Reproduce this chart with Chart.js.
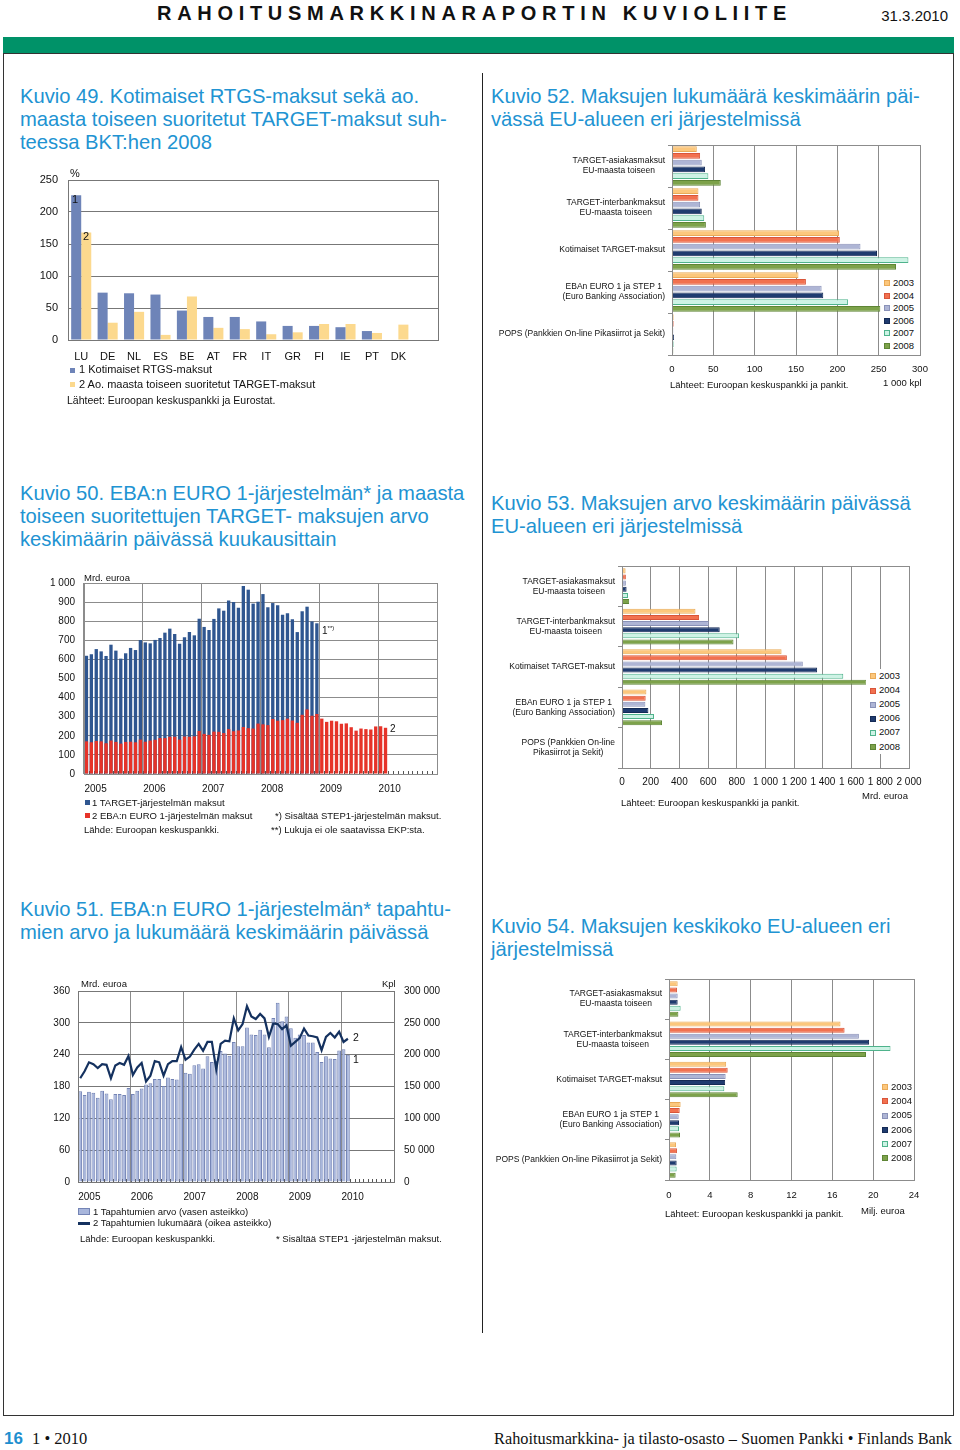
<!DOCTYPE html>
<html lang="fi">
<head>
<meta charset="utf-8">
<title>Rahoitusmarkkinaraportin kuvioliite</title>
<script src="https://cdn.jsdelivr.net/npm/chart.js@4.4.1/dist/chart.umd.min.js"></script>
<style>
  body { margin: 0; width: 960px; height: 1450px; position: relative; overflow: hidden; background: #fff;
         font-family: "Liberation Sans", Arial, sans-serif; color: #111; }
  .t { position: absolute; white-space: nowrap; line-height: 1; }
  .ttl { position: absolute; white-space: nowrap; color: #2193d2; font-size: 20.2px; line-height: 23px; }
  .s95 { font-size: 9.5px; }
  .s11 { font-size: 11px; }
  .sq { position: absolute; }
  .lgbg { position: absolute; background: #fff; }
  canvas { position: absolute; }
</style>
</head>
<body>
<!-- header -->
<div class="t" style="left:157px;top:3px;font-size:20px;font-weight:bold;letter-spacing:5.7px">RAHOITUSMARKKINARAPORTIN KUVIOLIITE</div>
<div class="t" style="right:12px;top:8px;font-size:15px">31.3.2010</div>
<div style="position:absolute;left:3px;top:37px;width:951px;height:17px;background:#009268"></div>
<div style="position:absolute;left:3px;top:53px;width:949px;height:1361px;border:1px solid #333"></div>
<div style="position:absolute;left:482px;top:73px;width:1px;height:1260px;background:#222"></div>

<!-- titles -->
<div class="ttl" style="left:20px;top:85px">Kuvio 49. Kotimaiset RTGS-maksut sekä ao.<br>maasta toiseen suoritetut TARGET-maksut suh-<br>teessa BKT:hen 2008</div>
<div class="ttl" style="left:491px;top:85px">Kuvio 52. Maksujen lukumäärä keskimäärin päi-<br>vässä EU-alueen eri järjestelmissä</div>
<div class="ttl" style="left:20px;top:482px">Kuvio 50. EBA:n EURO 1-järjestelmän* ja maasta<br>toiseen suoritettujen TARGET- maksujen arvo<br>keskimäärin päivässä kuukausittain</div>
<div class="ttl" style="left:491px;top:492px">Kuvio 53. Maksujen arvo keskimäärin päivässä<br>EU-alueen eri järjestelmissä</div>
<div class="ttl" style="left:20px;top:898px">Kuvio 51. EBA:n EURO 1-järjestelmän* tapahtu-<br>mien arvo ja lukumäärä keskimäärin päivässä</div>
<div class="ttl" style="left:491px;top:915px">Kuvio 54. Maksujen keskikoko EU-alueen eri<br>järjestelmissä</div>

<!-- canvases -->
<canvas id="c49" width="440" height="220" style="left:20px;top:160px"></canvas>
<canvas id="c52" width="455" height="245" style="left:490px;top:135px"></canvas>
<canvas id="c50" width="440" height="235" style="left:20px;top:565px"></canvas>
<canvas id="c53" width="455" height="237" style="left:490px;top:558px"></canvas>
<canvas id="c51" width="445" height="235" style="left:20px;top:975px"></canvas>
<canvas id="c54" width="455" height="240" style="left:490px;top:970px"></canvas>

<!-- chart 49 texts -->
<div class="t s11" style="left:70px;top:168px">%</div>
<div class="t s11" style="left:72px;top:194px">1</div>
<div class="t s11" style="left:83px;top:231px">2</div>
<div class="sq" style="left:70px;top:368px;width:5px;height:5px;background:#6e84b8"></div>
<div class="t s11" style="left:79px;top:364px">1 Kotimaiset RTGS-maksut</div>
<div class="sq" style="left:70px;top:382px;width:5px;height:5px;background:#fcd98e"></div>
<div class="t s11" style="left:79px;top:379px">2 Ao. maasta toiseen suoritetut TARGET-maksut</div>
<div class="t" style="left:67px;top:395px;font-size:10.5px">Lähteet: Euroopan keskuspankki ja Eurostat.</div>

<!-- chart 52 texts -->
<div class="t s95" style="left:883px;top:378px">1 000 kpl</div>
<div class="t s95" style="left:670px;top:380px">Lähteet: Euroopan keskuspankki ja pankit.</div>
<div class="lgbg" style="left:881px;top:277px;width:36px;height:76px"></div>

<!-- chart 53 texts -->
<div class="t s95" style="left:862px;top:791px">Mrd. euroa</div>
<div class="t s95" style="left:621px;top:798px">Lähteet: Euroopan keskuspankki ja pankit.</div>
<div class="lgbg" style="left:866px;top:669px;width:40px;height:85px"></div>

<!-- chart 54 texts -->
<div class="t s95" style="left:861px;top:1206px">Milj. euroa</div>
<div class="t s95" style="left:665px;top:1209px">Lähteet: Euroopan keskuspankki ja pankit.</div>
<div class="lgbg" style="left:880px;top:1080px;width:32px;height:85px"></div>

<!-- chart 50 texts -->
<div class="t s95" style="left:84px;top:573px">Mrd. euroa</div>
<div class="t" style="left:322px;top:625px;font-size:10px">1<span style="font-size:6px;vertical-align:4px">**)</span></div>
<div class="t" style="left:390px;top:724px;font-size:10px">2</div>
<div class="sq" style="left:85px;top:800px;width:5px;height:5px;background:#2f5690"></div>
<div class="t s95" style="left:92px;top:798px">1 TARGET-järjestelmän maksut</div>
<div class="sq" style="left:85px;top:813px;width:5px;height:5px;background:#e63329"></div>
<div class="t s95" style="left:92px;top:811px">2 EBA:n EURO 1-järjestelmän maksut</div>
<div class="t s95" style="left:84px;top:825px">Lähde: Euroopan keskuspankki.</div>
<div class="t s95" style="left:275px;top:811px">*) Sisältää STEP1-järjestelmän maksut.</div>
<div class="t s95" style="left:271px;top:825px">**) Lukuja ei ole saatavissa EKP:sta.</div>

<!-- chart 51 texts -->
<div class="t s95" style="left:81px;top:979px">Mrd. euroa</div>
<div class="t s95" style="left:382px;top:979px">Kpl</div>
<div class="t" style="left:353px;top:1032px;font-size:10.5px">2</div>
<div class="t" style="left:353px;top:1054px;font-size:10.5px">1</div>
<div class="sq" style="left:78px;top:1208px;width:10px;height:5px;background:#a8b6dc;border:1px solid #7484b5"></div>
<div class="t s95" style="left:93px;top:1207px">1 Tapahtumien arvo (vasen asteikko)</div>
<div class="sq" style="left:78px;top:1222px;width:12px;height:2.5px;background:#14315f"></div>
<div class="t s95" style="left:93px;top:1218px">2 Tapahtumien lukumäärä (oikea asteikko)</div>
<div class="t s95" style="left:80px;top:1234px">Lähde: Euroopan keskuspankki.</div>
<div class="t s95" style="left:276px;top:1234px">* Sisältää STEP1 -järjestelmän maksut.</div>

<!-- footer -->
<div class="t" style="left:4px;top:1430px;font-size:17px;font-weight:bold;color:#1f8fcf">16</div>
<div class="t" style="left:32px;top:1431px;font-size:16.5px;font-family:'Liberation Serif','Times New Roman',serif">1 • 2010</div>
<div class="t" style="right:8px;top:1431px;font-size:16.3px;font-family:'Liberation Serif','Times New Roman',serif">Rahoitusmarkkina- ja tilasto-osasto – Suomen Pankki • Finlands Bank</div>

<script>
// Kuvio 49: % of GDP 2008
const countries49 = ['LU', 'DE', 'NL', 'ES', 'BE', 'AT', 'FR', 'IT', 'GR', 'FI', 'IE', 'PT', 'DK', ''];
const rtgs49 = [226, 74, 73, 71, 46, 36, 36, 29, 22, 22, 20, 14, 0.8];
const target49 = [168, 27, 44, 8, 68, 19, 17, 9, 12, 25, 25, 11, 24];

// Kuviot 52-54: yearly series per system
const years = ['2003', '2004', '2005', '2006', '2007', '2008'];
const yearFill = ['#fcc77c', '#f2714f', '#aeb5d5', '#1f3b6f', '#cdf3e5', '#7da24a'];
const yearLine = ['#e9aa58', '#d9553a', '#8a92b8', '#142a55', '#4fb38c', '#5e8535'];

const cats52 = [['TARGET-asiakasmaksut', 'EU-maasta toiseen'], ['TARGET-interbankmaksut', 'EU-maasta toiseen'],
  'Kotimaiset TARGET-maksut', ['EBAn EURO 1 ja STEP 1', '(Euro Banking Association)'],
  'POPS (Pankkien On-line Pikasiirrot ja Sekit)'];
const cnt2003 = [30, 32, 202, 153, 2];
const cnt2004 = [34, 32, 203, 162, 2];
const cnt2005 = [36, 34, 228, 181, 1.6];
const cnt2006 = [40, 36, 248, 183, 2.4];
const cnt2007 = [44, 39, 286, 213, 2];
const cnt2008 = [59, 41, 271, 252, 1.6];

const cats53 = [['TARGET-asiakasmaksut', 'EU-maasta toiseen'], ['TARGET-interbankmaksut', 'EU-maasta toiseen'],
  'Kotimaiset TARGET-maksut', ['EBAn EURO 1 ja STEP 1', '(Euro Banking Association)'],
  ['POPS (Pankkien On-line', 'Pikasiirrot ja Sekit)']];
const val2003 = [25, 512, 1112, 170, 3];
const val2004 = [27, 537, 1149, 165, 3];
const val2005 = [27, 605, 1260, 163, 3];
const val2006 = [32, 681, 1360, 184, 3];
const val2007 = [42, 816, 1542, 223, 3];
const val2008 = [50, 777, 1705, 279, 3];

const cats54 = cats52;
const avg2003 = [0.85, 16.8, 5.6, 1.14, 0.69];
const avg2004 = [0.78, 17.2, 5.75, 1.05, 0.78];
const avg2005 = [0.85, 18.6, 5.55, 0.95, 0.72];
const avg2006 = [0.85, 19.6, 5.5, 0.98, 0.75];
const avg2007 = [1.14, 21.7, 5.42, 0.98, 0.75];
const avg2008 = [0.92, 19.3, 6.73, 1.08, 0.65];

// Kuviot 50-51: monthly, Jan 2005 ->
const axisYears = ['2005', '2006', '2007', '2008', '2009', '2010'];
const months = [];
axisYears.forEach(y => { for (let m = 1; m <= 12; m++) months.push(y + '-' + String(m).padStart(2, '0')); });

const target50 = [619, 627, 654, 642, 618, 677, 646, 604, 632, 660, 649, 702,
  689, 684, 702, 712, 740, 761, 733, 682, 716, 743, 726, 813,
  770, 754, 812, 867, 855, 908, 901, 871, 984, 965, 892, 902,
  942, 873, 895, 883, 834, 841, 810, 743, 852, 876, 799, 789];
const eba50 = [171, 166, 173, 171, 161, 175, 168, 159, 168, 169, 166, 180,
  169, 175, 179, 188, 188, 195, 195, 180, 196, 195, 197, 225,
  210, 205, 222, 221, 214, 235, 224, 228, 246, 240, 238, 264,
  260, 256, 288, 279, 282, 290, 280, 268, 310, 338, 305, 314,
  290, 273, 279, 276, 263, 265, 245, 227, 238, 235, 233, 249,
  250, 242];

const value51 = [171, 164, 170, 168, 159, 172, 167, 156, 166, 166, 164, 177,
  166, 172, 176, 184, 186, 194, 194, 181, 197, 194, 193, 223,
  206, 204, 220, 222, 214, 237, 226, 228, 247, 242, 238, 264,
  256, 256, 291, 278, 277, 287, 278, 254, 309, 338, 303, 312,
  290, 272, 278, 277, 263, 263, 245, 226, 237, 233, 232, 248,
  250, 240];
const count51 = [163000, 174000, 188000, 185000, 179000, 185000, 184000, 163000, 183000, 187000, 184000, 198000,
  168000, 180000, 187000, 158000, 167000, 190000, 188000, 167000, 185000, 190000, 190000, 212000,
  192000, 197000, 208000, 217000, 206000, 220000, 220000, 177000, 217000, 222000, 221000, 257000,
  238000, 248000, 276000, 260000, 256000, 264000, 257000, 228000, 249000, 248000, 240000, 246000,
  214000, 220000, 226000, 241000, 230000, 229000, 227000, 207000, 228000, 234000, 227000, 236000,
  220000, 225000];

Chart.defaults.font.family = '"Liberation Sans", Arial, sans-serif';
Chart.defaults.color = '#111';
Chart.defaults.animation = false;
Chart.defaults.responsive = false;
Chart.defaults.plugins.legend.display = false;
Chart.defaults.plugins.tooltip.enabled = false;

const fmt = v => String(v).replace(/\B(?=(\d{3})+(?!\d))/g, ' ');
const GRID = '#8c8c8c';

// box round the plot area
const frame = {
  id: 'frame',
  afterDatasetsDraw(chart, args, opts) {
    const a = chart.chartArea, ctx = chart.ctx;
    ctx.save();
    ctx.strokeStyle = opts.color || GRID;
    ctx.lineWidth = 1;
    ctx.strokeRect(Math.round(a.left) + 0.5, Math.round(a.top) + 0.5, Math.round(a.right - a.left), Math.round(a.bottom - a.top));
    ctx.restore();
  }
};

// small month ticks on the x axis
const monthTicks = {
  id: 'monthTicks',
  beforeDatasetsDraw(chart) {
    const xs = chart.scales.x, ctx = chart.ctx, b = Math.round(chart.chartArea.bottom);
    const half = (xs.getPixelForTick(1) - xs.getPixelForTick(0)) / 2;
    ctx.save();
    ctx.strokeStyle = '#555';
    ctx.lineWidth = 1;
    ctx.beginPath();
    for (let i = 0; i < xs.ticks.length; i++) {
      const x = Math.round(xs.getPixelForTick(i) + half) + 0.5;
      ctx.moveTo(x, b);
      ctx.lineTo(x, b - 3);
    }
    ctx.stroke();
    ctx.restore();
  }
};

// category labels: block right aligned, lines centred
const catLabels = {
  id: 'catLabels',
  afterDraw(chart, args, opts) {
    const ctx = chart.ctx, ys = chart.scales.y, right = chart.chartArea.left - opts.gap;
    ctx.save();
    ctx.font = opts.font;
    ctx.fillStyle = '#111';
    ctx.textAlign = 'center';
    ctx.textBaseline = 'middle';
    chart.data.labels.forEach((lab, i) => {
      const lines = [].concat(lab);
      const w = Math.max(...lines.map(s => ctx.measureText(s).width));
      const y0 = ys.getPixelForValue(i) - (lines.length - 1) * opts.lh / 2;
      lines.forEach((s, k) => ctx.fillText(s, right - w / 2, y0 + k * opts.lh));
    });
    ctx.restore();
  }
};

// Kuvio 49
new Chart(document.getElementById('c49'), {
  type: 'bar',
  data: {
    labels: countries49,
    datasets: [
      { data: rtgs49, backgroundColor: '#6e84b8', categoryPercentage: 0.76, barPercentage: 1 },
      { data: target49, backgroundColor: '#fcd98e', categoryPercentage: 0.76, barPercentage: 1 }
    ]
  },
  options: {
    layout: { padding: { top: 20, right: 22 } },
    scales: {
      x: {
        grid: { display: false, drawTicks: false }, border: { display: false },
        ticks: { font: { size: 11 }, padding: 10, autoSkip: false, maxRotation: 0 },
        afterFit: s => { s.height = 40; }
      },
      y: {
        min: 0, max: 250,
        ticks: { stepSize: 50, font: { size: 11 }, padding: 10 },
        grid: { color: '#777', drawTicks: false }, border: { display: false },
        afterFit: s => { s.width = 48; }
      }
    },
    plugins: { frame: { color: '#777' } }
  },
  plugins: [frame]
});

// Kuviot 52-54
function hbar(id, cats, series, max, step, box) {
  return new Chart(document.getElementById(id), {
    type: 'bar',
    data: {
      labels: cats,
      datasets: series.map((d, i) => ({
        label: years[i], data: d, backgroundColor: yearFill[i], borderColor: yearLine[i], borderWidth: 1,
        categoryPercentage: box.cp, barPercentage: box.bp
      }))
    },
    options: {
      indexAxis: 'y',
      layout: { padding: { top: box.top, right: box.right } },
      scales: {
        x: {
          min: 0, max: max,
          ticks: { stepSize: step, font: { size: box.fs }, padding: box.xpad, callback: fmt, maxRotation: 0 },
          grid: { color: GRID, drawTicks: false }, border: { display: false },
          afterFit: s => { s.height = box.xh; }
        },
        y: {
          ticks: { display: false },
          grid: { drawOnChartArea: false, drawTicks: true, tickLength: 4, color: GRID },
          border: { display: false },
          afterFit: s => { s.width = box.yw; }
        }
      },
      plugins: { frame: {}, catLabels: { gap: 7, lh: 10, font: '8.5px "Liberation Sans", Arial, sans-serif' } }
    },
    plugins: [frame, catLabels]
  });
}

hbar('c52', cats52, [cnt2003, cnt2004, cnt2005, cnt2006, cnt2007, cnt2008], 300, 50,
  { top: 10, right: 25, yw: 182, xh: 25, fs: 9.5, xpad: 9, cp: 0.96, bp: 0.85 });
hbar('c53', cats53, [val2003, val2004, val2005, val2006, val2007, val2008], 2000, 200,
  { top: 8, right: 36, yw: 132, xh: 27, fs: 10, xpad: 8, cp: 0.91, bp: 0.82 });
hbar('c54', cats54, [avg2003, avg2004, avg2005, avg2006, avg2007, avg2008], 24, 4,
  { top: 9, right: 31, yw: 179, xh: 30, fs: 9.5, xpad: 10, cp: 0.91, bp: 0.82 });

// year legends
function yearLegend(x0, rowsY, sq) {
  rowsY.forEach((cy, i) => {
    const s = document.createElement('div');
    s.className = 'sq';
    s.style.cssText = `left:${x0}px;top:${cy - sq / 2}px;width:${sq - 2}px;height:${sq - 2}px;background:${yearFill[i]};border:1px solid ${yearLine[i]}`;
    document.body.appendChild(s);
    const t = document.createElement('div');
    t.className = 't s95';
    t.style.left = (x0 + sq + 3) + 'px';
    t.style.top = (cy - 5.1) + 'px';
    t.textContent = years[i];
    document.body.appendChild(t);
  });
}
yearLegend(884, [283.3, 295.7, 308.3, 321, 333.3, 346], 6);
yearLegend(870, [676, 690.5, 704.5, 718.5, 732.5, 747], 6);
yearLegend(882, [1086.7, 1101.2, 1115.5, 1129.6, 1144, 1158.3], 6);

// monthly x axis shared by 50 and 51
function monthAxis(h) {
  return {
    ticks: {
      autoSkip: false, maxRotation: 0, align: 'start', labelOffset: -2, padding: 9, font: { size: 10 },
      callback: (v, i) => i % 12 === 0 ? months[i].slice(0, 4) : ''
    },
    grid: { drawTicks: false, color: ctx => ctx.index % 12 === 0 ? GRID : 'rgba(0,0,0,0)' },
    border: { display: false },
    afterFit: s => { s.height = h; }
  };
}

// Kuvio 50
new Chart(document.getElementById('c50'), {
  type: 'bar',
  data: {
    labels: months,
    datasets: [
      { data: eba50, backgroundColor: '#e63329', order: 0, grouped: false, barPercentage: 0.68, categoryPercentage: 1 },
      { data: target50, backgroundColor: '#2f5690', order: 1, grouped: false, barPercentage: 0.68, categoryPercentage: 1 }
    ]
  },
  options: {
    layout: { padding: { top: 18, right: 23 } },
    scales: {
      x: monthAxis(26),
      y: {
        min: 0, max: 1000,
        ticks: { stepSize: 100, padding: 9, font: { size: 10 }, callback: fmt },
        grid: { color: GRID, drawTicks: false }, border: { display: false },
        afterFit: s => { s.width = 64; }
      }
    },
    plugins: { frame: {} }
  },
  plugins: [frame, monthTicks]
});

// Kuvio 51
new Chart(document.getElementById('c51'), {
  type: 'bar',
  data: {
    labels: months,
    datasets: [
      { type: 'line', data: count51, yAxisID: 'y2', borderColor: '#14315f', borderWidth: 2.2, pointRadius: 0, tension: 0, order: 0 },
      { type: 'bar', data: value51, yAxisID: 'y', backgroundColor: '#a8b6dc', borderColor: '#7484b5', borderWidth: 1,
        barPercentage: 0.86, categoryPercentage: 1, order: 1 }
    ]
  },
  options: {
    layout: { padding: { top: 16 } },
    scales: {
      x: monthAxis(28),
      y: {
        min: 0, max: 360, position: 'left',
        ticks: { stepSize: 60, padding: 8, font: { size: 10 } },
        grid: { color: '#777', drawTicks: false }, border: { display: false },
        afterFit: s => { s.width = 58; }
      },
      y2: {
        min: 0, max: 300000, position: 'right',
        ticks: { stepSize: 50000, padding: 10, font: { size: 10 }, callback: fmt },
        grid: { drawOnChartArea: false, drawTicks: false }, border: { display: false },
        afterFit: s => { s.width = 71; }
      }
    },
    plugins: { frame: { color: '#777' } }
  },
  plugins: [frame, monthTicks]
});
</script>
</body>
</html>
